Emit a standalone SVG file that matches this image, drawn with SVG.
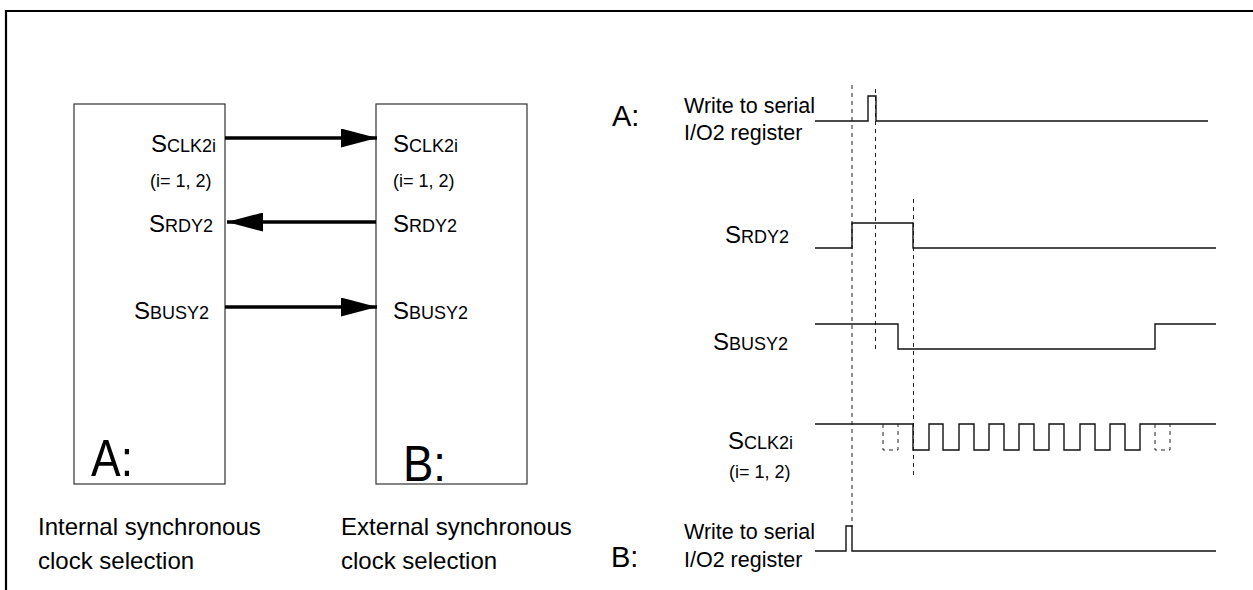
<svg xmlns="http://www.w3.org/2000/svg" width="1253" height="590" viewBox="0 0 1253 590">
<style>
text{font-family:"Liberation Sans",Arial,sans-serif;fill:#000}
.big{font-size:24px}
.sm{font-size:18px}
.cap{font-size:24px}
.lbl{font-size:21.5px}
.box{fill:none;stroke:#333;stroke-width:1.2}
.arr{stroke:#000;stroke-width:3.5;fill:none}
.wave{fill:none;stroke:#111;stroke-width:1.4}
.dash{fill:none;stroke:#222;stroke-width:1;stroke-dasharray:4 4}
</style>
<defs>
<marker id="ah" markerWidth="36" markerHeight="19" refX="36" refY="9.5" orient="auto" markerUnits="userSpaceOnUse">
<path d="M0,0 L36,9.5 L0,19 Z" fill="#000"/>
</marker>
</defs>
<rect width="1253" height="590" fill="#fff"/>
<g id="frame"><path d="M6,590 V11 H1253" fill="none" stroke="#000" stroke-width="2.2"/></g>

<g id="boxA">
<rect class="box" x="74" y="104" width="151" height="380"/>
<text x="151" y="152"><tspan class="big">S</tspan><tspan class="sm">CLK2i</tspan></text>
<text class="sm" x="150" y="187">(i= 1, 2)</text>
<text x="149" y="232"><tspan class="big">S</tspan><tspan class="sm">RDY2</tspan></text>
<text x="134" y="319"><tspan class="big">S</tspan><tspan class="sm">BUSY2</tspan></text>
<text x="91" y="476" font-size="52" textLength="42" lengthAdjust="spacingAndGlyphs">A:</text>
<text class="cap" x="38" y="535">Internal synchronous</text>
<text class="cap" x="38" y="569">clock selection</text>
</g>

<g id="boxB">
<rect class="box" x="376" y="104" width="151" height="380"/>
<text x="393" y="152"><tspan class="big">S</tspan><tspan class="sm">CLK2i</tspan></text>
<text class="sm" x="393" y="187">(i= 1, 2)</text>
<text x="393" y="232"><tspan class="big">S</tspan><tspan class="sm">RDY2</tspan></text>
<text x="393" y="319"><tspan class="big">S</tspan><tspan class="sm">BUSY2</tspan></text>
<text x="403" y="481" font-size="50" textLength="43" lengthAdjust="spacingAndGlyphs">B:</text>
<text class="cap" x="341" y="535">External synchronous</text>
<text class="cap" x="341" y="569">clock selection</text>
</g>

<g id="connectors">
<line class="arr" x1="225" y1="138" x2="377" y2="138" marker-end="url(#ah)"/>
<line class="arr" x1="376" y1="222" x2="227" y2="222" marker-end="url(#ah)"/>
<line class="arr" x1="225" y1="307" x2="377" y2="307" marker-end="url(#ah)"/>
</g>

<g id="timing-guides">
<line class="dash" x1="852" y1="85" x2="852" y2="527"/>
<line class="dash" x1="875.5" y1="89" x2="875.5" y2="352"/>
<line class="dash" x1="913.5" y1="199" x2="913.5" y2="478"/>
</g>

<g id="writeA">
<text x="612" y="126" font-size="29">A:</text>
<text class="lbl" x="684" y="113">Write to serial</text>
<text class="lbl" x="684" y="140">I/O2 register</text>
<path class="wave" d="M815,121 H868 V96 H876 V121 H1208"/>
</g>

<g id="srdy2">
<text x="725" y="243"><tspan class="big">S</tspan><tspan class="sm">RDY2</tspan></text>
<path class="wave" d="M815,248 H852 V223 H913 V248 H1216"/>
</g>

<g id="sbusy2">
<text x="713" y="350"><tspan class="big">S</tspan><tspan class="sm">BUSY2</tspan></text>
<path class="wave" d="M815,324 H898 V349 H1155 V324 H1216"/>
</g>

<g id="sclk2i">
<text x="728" y="449"><tspan class="big">S</tspan><tspan class="sm">CLK2i</tspan></text>
<text class="sm" x="729" y="478">(i= 1, 2)</text>
<path class="wave" d="M815,424 H913 V450 H929 V424 H943 V450 H959 V424 H974 V450 H989 V424 H1004 V450 H1019 V424 H1034 V450 H1049 V424 H1064 V450 H1080 V424 H1095 V450 H1110 V424 H1125 V450 H1140 V424 H1216"/>
<path class="dash" d="M883,424 V450 H898 V424"/>
<path class="dash" d="M1155,424 V450 H1170 V424"/>
</g>

<g id="writeB">
<text x="611" y="567" font-size="29">B:</text>
<text class="lbl" x="684" y="539">Write to serial</text>
<text class="lbl" x="684" y="567">I/O2 register</text>
<path class="wave" d="M815,551 H846 V526 H852 V551 H1216"/>
</g>
</svg>
